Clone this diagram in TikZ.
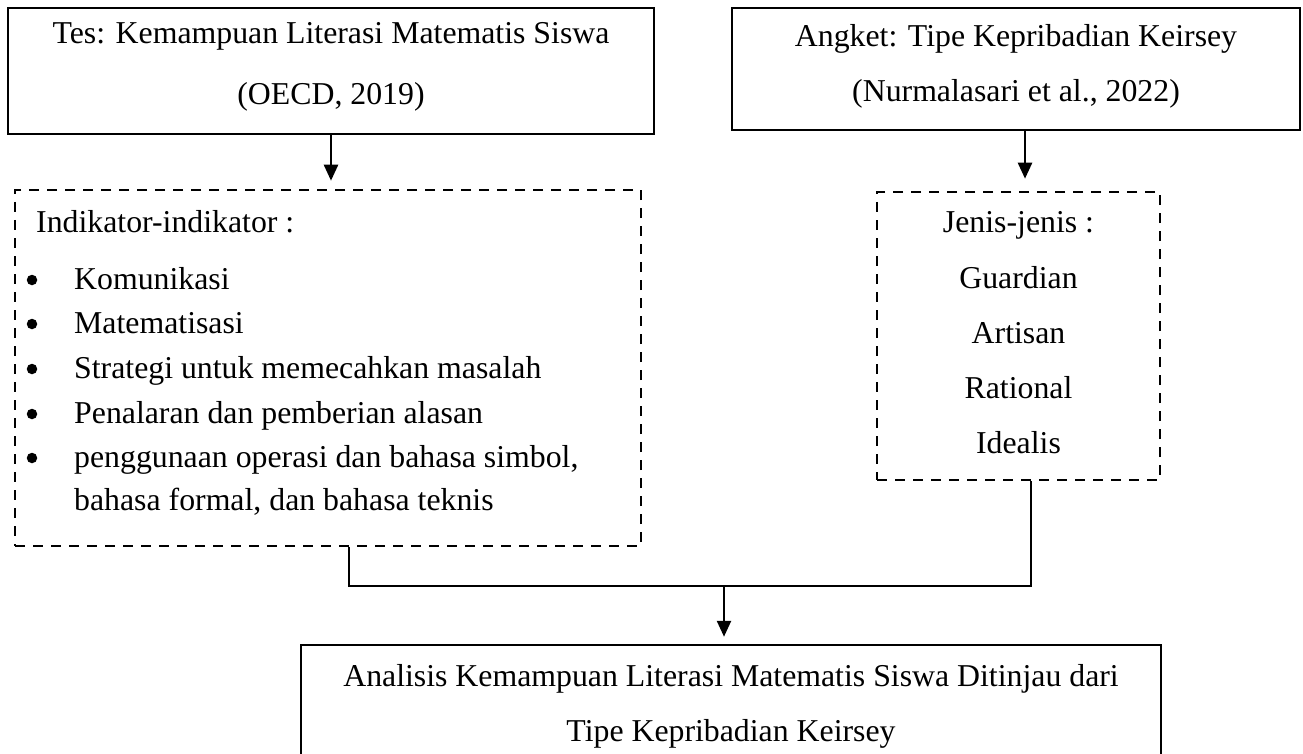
\documentclass[tikz,border=0pt]{standalone}
\usepackage{fontspec}
\setmainfont{Liberation Serif}
\usetikzlibrary{arrows.meta,calc}
\begin{document}
\begin{tikzpicture}[x=1pt,y=-1pt,
  solidbox/.style={draw, line width=2.5pt, inner sep=0pt},
  dashbox/.style={draw, line width=2.6pt, inner sep=0pt, dash pattern=on 10pt off 8pt},
  txt/.style={inner sep=0pt, anchor=base, font=\fontsize{31.8}{38}\selectfont},
  ltxt/.style={txt, anchor=base west},
  dot/.style={circle, fill, inner sep=0pt, minimum size=10.5pt},
  arr/.style={line width=2.5pt, -{Triangle[width=14pt,length=16pt]}},
  conn/.style={line width=2.5pt}]
\useasboundingbox (0,0) rectangle (1303,754);
% boxes
\node[solidbox, minimum width=646pt, minimum height=126pt] (tes) at (331,71) {};
\node[solidbox, minimum width=568pt, minimum height=122pt] (ang) at (1016,69) {};
\node[dashbox, minimum width=626pt, minimum height=356pt] (ind) at (328,368) {};
\node[dashbox, minimum width=283pt, minimum height=288pt] (jen) at (1018.5,336) {};
\node[solidbox, minimum width=860pt, minimum height=113pt] (ana) at (731,701.5) {};
% texts
\node[txt] (t1) at (331,44) {Tes: Kemampuan Literasi Matematis Siswa};
\node[txt] (t2) at (331,105) {(OECD, 2019)};
\node[txt] (a1) at (1016,47) {Angket: Tipe Kepribadian Keirsey};
\node[txt] (a2) at (1016,102) {(Nurmalasari et al., 2022)};
\node[ltxt] (i0) at (36,232) {Indikator-indikator :};
\node[dot] (b1) at (32,280) {};
\node[dot] (b2) at (32,324) {};
\node[dot] (b3) at (32,369) {};
\node[dot] (b4) at (32,414) {};
\node[dot] (b5) at (32,458) {};
\node[ltxt] (i1) at (74,289) {Komunikasi};
\node[ltxt] (i2) at (74,333) {Matematisasi};
\node[ltxt] (i3) at (74,378) {Strategi untuk memecahkan masalah};
\node[ltxt] (i4) at (74,423) {Penalaran dan pemberian alasan};
\node[ltxt] (i5) at (74,467) {penggunaan operasi dan bahasa simbol,};
\node[ltxt] (i6) at (74,510) {bahasa formal, dan bahasa teknis};
\node[txt] (j0) at (1018.5,233) {Jenis-jenis :};
\node[txt] (j1) at (1018.5,288) {Guardian};
\node[txt] (j2) at (1018.5,343) {Artisan};
\node[txt] (j3) at (1018.5,398) {Rational};
\node[txt] (j4) at (1018.5,453) {Idealis};
\node[txt] (n1) at (731,686) {Analisis Kemampuan Literasi Matematis Siswa Ditinjau dari};
\node[txt] (n2) at (731,741) {Tipe Kepribadian Keirsey};
% connectors
\draw[arr, shorten >=8pt] (tes.south) -- (tes.south |- ind.north);
\coordinate (angout) at ($(ang.south)+(9,0)$);
\draw[arr, shorten >=12pt] (angout) -- (angout |- jen.north);
\coordinate (indout) at ($(ind.south)+(21,0)$);
\coordinate (jenout) at ($(jen.south)+(12.5,0)$);
\coordinate (join) at (724,586);
\draw[conn] (indout) -- (indout |- join) -- (jenout |- join) -- (jenout);
\draw[arr, shorten >=7pt] (join) -- (join |- ana.north);
\end{tikzpicture}
\end{document}
